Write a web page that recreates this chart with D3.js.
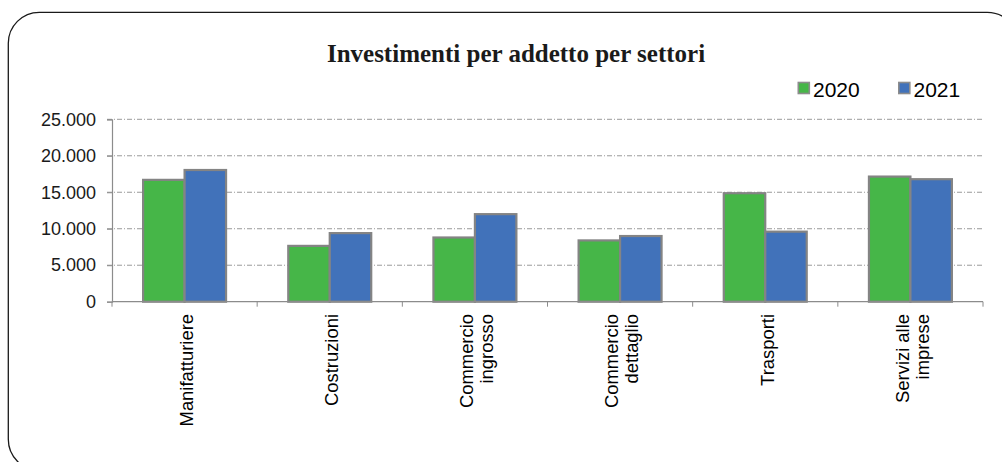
<!DOCTYPE html>
<html>
<head>
<meta charset="utf-8">
<script src="https://cdn.jsdelivr.net/npm/d3@7"></script>
<style>
  html, body { margin: 0; padding: 0; background: #fff; }
  svg { display: block; }
</style>
</head>
<body>
<svg id="chart" width="1002" height="462"></svg>
<script>
const categories = [
  ["Manifatturiere"],
  ["Costruzioni"],
  ["Commercio", "ingrosso"],
  ["Commercio", "dettaglio"],
  ["Trasporti"],
  ["Servizi alle", "imprese"]
];
const seriesNames = ["2020", "2021"];
const values2020 = [16700, 7650, 8800, 8400, 14870, 17150];
const values2021 = [18050, 9400, 12000, 9000, 9600, 16790];
const yTicks = [0, 5000, 10000, 15000, 20000, 25000];
const colors = ["#46b648", "#4172ba"];
const chartTitle = "Investimenti per addetto per settori";

(function () {
const svg = d3.select("#chart");
const pLeft = 112, pRight = 983, pTop = 119.3, pBottom = 301.7;

const itLocale = d3.formatLocale({ decimal: ",", thousands: ".", grouping: [3], currency: ["€", ""] });
const fmt = itLocale.format(",d");

// Frame
svg.append("rect")
  .attr("x", 8.3).attr("y", 12.3)
  .attr("width", 1010).attr("height", 458)
  .attr("rx", 31).attr("ry", 31)
  .attr("fill", "none").attr("stroke", "#1a1a1a").attr("stroke-width", 1.3);

// Title
svg.append("text")
  .attr("x", 516).attr("y", 62)
  .attr("text-anchor", "middle")
  .attr("font-family", "'Liberation Serif', 'Times New Roman', serif")
  .attr("font-weight", "bold")
  .attr("font-size", 25)
  .attr("fill", "#1a1a1a")
  .text(chartTitle);

const keys = categories.map(c => c.join(" "));
const x0 = d3.scaleBand().domain(keys).range([pLeft, pRight]).paddingInner(0).paddingOuter(0);
const x1 = d3.scaleBand().domain(seriesNames).range([0, x0.bandwidth()]).paddingInner(0).paddingOuter(0.75);
const y = d3.scaleLinear().domain([0, 25000]).range([pBottom, pTop]);

// Gridlines
svg.append("g")
  .selectAll("line")
  .data(yTicks.filter(t => t > 0))
  .join("line")
  .attr("x1", pLeft - 5).attr("x2", pRight)
  .attr("y1", d => y(d)).attr("y2", d => y(d))
  .attr("stroke", "#9a9a9a").attr("stroke-width", 1)
  .attr("stroke-dasharray", "5,2,1,2");

// Y axis
const yAxis = svg.append("g")
  .attr("transform", `translate(${pLeft},0)`)
  .call(d3.axisLeft(y).tickValues(yTicks).tickFormat(fmt).tickSize(5).tickPadding(11));
yAxis.select(".domain").attr("stroke", "#8c8c8c").attr("stroke-width", 1.2);
yAxis.selectAll(".tick line").attr("stroke", "#8c8c8c").attr("stroke-width", 1);
yAxis.selectAll(".tick text")
  .attr("font-family", "'Liberation Sans', Arial, sans-serif")
  .attr("font-size", 18).attr("fill", "#1a1a1a");

// Bars
const rows = keys.map((k, i) => ({ key: k, vals: [values2020[i], values2021[i]] }));
const groups = svg.append("g").selectAll("g")
  .data(rows).join("g")
  .attr("transform", d => `translate(${x0(d.key)},0)`);
groups.selectAll("rect")
  .data(d => d.vals.map((v, j) => ({ s: seriesNames[j], v, j })))
  .join("rect")
  .attr("x", d => x1(d.s))
  .attr("width", x1.bandwidth())
  .attr("y", d => y(d.v))
  .attr("height", d => y(0) - y(d.v))
  .attr("fill", d => colors[d.j])
  .attr("stroke", "#848484").attr("stroke-width", 2.2);

// X axis line and ticks
const xAxisG = svg.append("g");
xAxisG.append("line")
  .attr("x1", pLeft).attr("x2", pRight)
  .attr("y1", y(0)).attr("y2", y(0))
  .attr("stroke", "#8c8c8c").attr("stroke-width", 1.2);
const boundaries = keys.map(k => x0(k)).concat([pRight]);
xAxisG.selectAll("line.tk").data(boundaries).join("line")
  .attr("class", "tk")
  .attr("x1", d => d).attr("x2", d => d)
  .attr("y1", y(0)).attr("y2", y(0) + 5)
  .attr("stroke", "#8c8c8c").attr("stroke-width", 1);

// Category labels (rotated)
const lineH = 20;
categories.forEach((lines, i) => {
  const cx = x0(keys[i]) + x0.bandwidth() / 2;
  lines.forEach((ln, j) => {
    const off = (j - (lines.length - 1) / 2) * lineH;
    svg.append("text")
      .attr("transform", `translate(${cx + off},314) rotate(-90)`)
      .attr("text-anchor", "end")
      .attr("dy", "0.45em")
      .attr("font-family", "'Liberation Sans', Arial, sans-serif")
      .attr("font-size", 18.4)
      .attr("fill", "#000")
      .text(ln);
  });
});

// Legend
const legendX = [797.5, 898];
seriesNames.forEach((s, i) => {
  svg.append("rect")
    .attr("x", legendX[i] + 0.8).attr("y", 82.5)
    .attr("width", 11).attr("height", 11)
    .attr("fill", colors[i]).attr("stroke", "#8c8c8c").attr("stroke-width", 1.6);
  svg.append("text")
    .attr("x", legendX[i] + 15.5).attr("y", 96.7)
    .attr("font-family", "'Liberation Sans', Arial, sans-serif")
    .attr("font-size", 21).attr("fill", "#000")
    .text(s);
});
})();
</script>
</body>
</html>
